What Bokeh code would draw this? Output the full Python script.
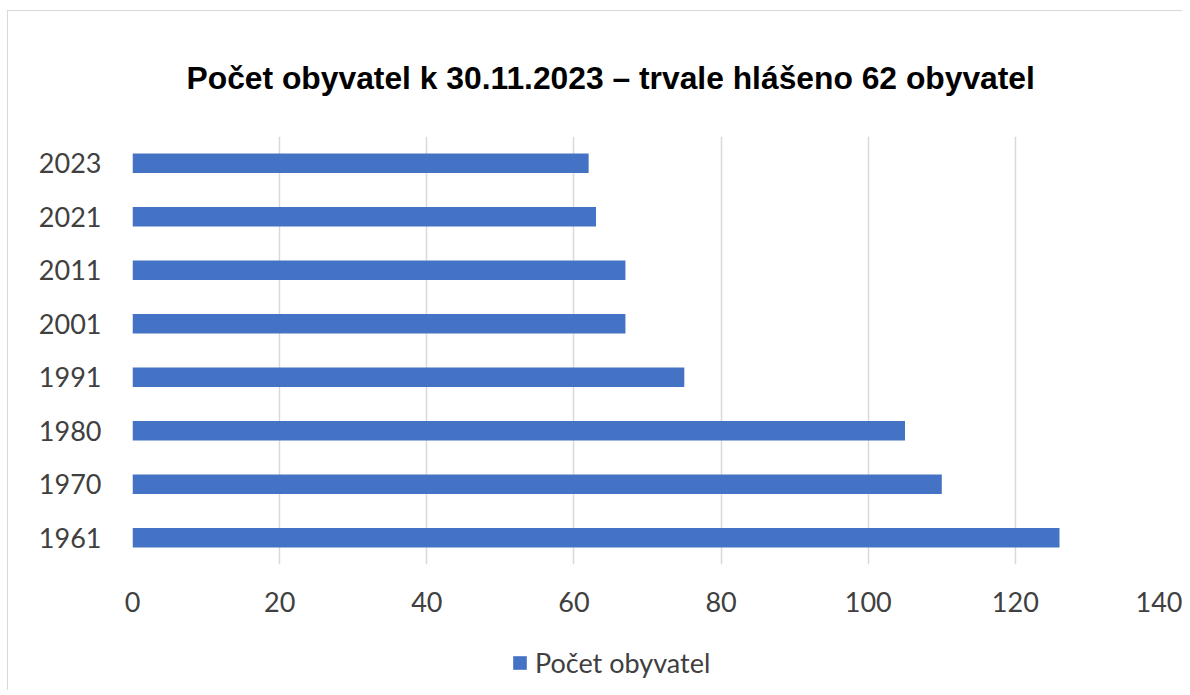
from bokeh.plotting import figure
from bokeh.layouts import column
from bokeh.models import (ColumnDataSource, FactorRange, Range1d, Legend, LegendItem,
                          SingleIntervalTicker)
from bokeh.embed import file_html
from bokeh.resources import INLINE

# ---- data ----
years = ["1961", "1970", "1980", "1991", "2001", "2011", "2021", "2023"]
population = [126, 110, 105, 75, 67, 67, 63, 62]
title_text = "Počet obyvatel k 30.11.2023 – trvale hlášeno 62 obyvatel"
series_name = "Počet obyvatel"

BAR = "#4472C4"
GRID = "#d9d9d9"
TXT = "#404040"
LABEL_FONT = "Lato"

source = ColumnDataSource(dict(year=years, value=population))

W = 1174
p = figure(width=W, height=620, output_backend="svg", toolbar_location=None,
           y_range=FactorRange(*years, range_padding=0),
           x_range=Range1d(0, 140),
           min_border_left=124, min_border_right=20,
           min_border_top=125, min_border_bottom=67)
p.outline_line_color = None
p.background_fill_color = "white"
p.border_fill_color = "white"

r = p.hbar(y="year", right="value", left=0, height=0.36, source=source,
           fill_color=BAR, line_color=None)

p.xaxis.ticker = SingleIntervalTicker(interval=20)
for ax in (p.xaxis[0], p.yaxis[0]):
    ax.axis_line_color = None
    ax.major_tick_line_color = None
    ax.minor_tick_line_color = None
    ax.major_tick_out = 0
    ax.major_tick_in = 0
    ax.major_label_text_font = LABEL_FONT
    ax.major_label_text_font_size = "27px"
    ax.major_label_text_color = TXT
p.xaxis.major_label_standoff = 23
p.yaxis.major_label_standoff = 31

p.xgrid.grid_line_color = GRID
p.xgrid.grid_line_width = 1.5
p.ygrid.grid_line_color = None

p.title.text = title_text
p.title.align = "left"
p.title.offset = 54
p.title.standoff = 82
p.title.text_font = "Liberation Sans"
p.title.text_font_style = "bold"
p.title.text_font_size = "31.8px"
p.title.text_color = "black"

# legend strip below the chart (same series, drawn with zero bar height so only the key shows)
q = figure(width=W, height=59, output_backend="svg", toolbar_location=None,
           x_range=Range1d(0, 140), y_range=FactorRange(*years),
           x_axis_type=None, y_axis_type=None,
           min_border=0, min_border_left=0, min_border_right=0,
           min_border_top=0, min_border_bottom=0)
q.outline_line_color = None
q.grid.visible = False
q.background_fill_color = "white"
q.border_fill_color = "white"
key = q.hbar(y="year", right="value", left=0, height=0, source=source,
             fill_color=BAR, line_color=None)

legend = Legend(items=[LegendItem(label=series_name, renderers=[key], index=0)],
                location=(379, 11), orientation="horizontal",
                glyph_width=17, glyph_height=17, label_standoff=7,
                label_text_font=LABEL_FONT, label_text_font_size="27px",
                label_text_color=TXT, border_line_color=None,
                background_fill_alpha=0, padding=0, margin=0)
q.add_layout(legend, "center")

layout = column(p, q, spacing=0)
layout.styles = {"margin-left": "7px", "margin-top": "10px",
                 "border-top": "1px solid #d9d9d9", "border-left": "1px solid #d9d9d9"}

open("out.html", "w").write(file_html(layout, INLINE))
